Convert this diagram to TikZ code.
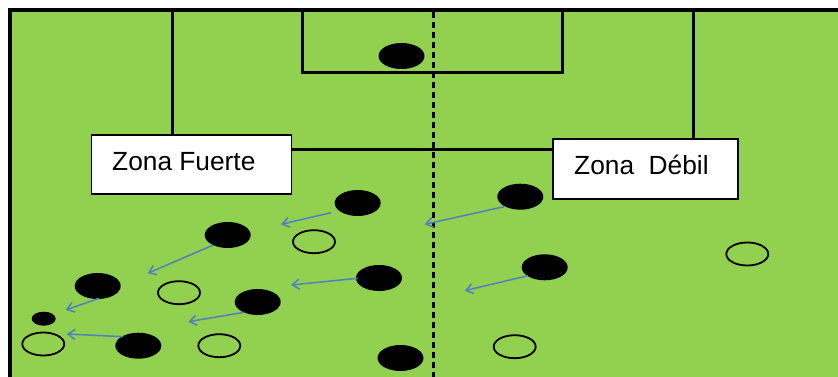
\documentclass[tikz,border=0pt]{standalone}
\usepackage{fontspec}
\setmainfont{Liberation Sans}
\usetikzlibrary{shapes.geometric,arrows.meta}
\definecolor{pitch}{HTML}{92D050}
\definecolor{arrowblue}{HTML}{4F81BD}
\tikzset{
  fieldline/.style={line width=3pt, black},
  pfull/.style={ellipse, fill=black, inner sep=0pt, minimum width=46pt, minimum height=26pt},
  pempty/.style={ellipse, draw=black, line width=1.8pt, inner sep=0pt, minimum width=42pt, minimum height=23pt},
  pmove/.style={draw=arrowblue, line width=1.5pt, -{Straight Barb[length=7pt,width=10pt]}},
  zonebox/.style={rectangle, draw=black, line width=1.6pt, fill=white, inner sep=0pt},
  zonetext/.style={anchor=base west, inner sep=0pt, font=\fontsize{26.3}{30}\selectfont}
}
\begin{document}
\begin{tikzpicture}[x=1pt,y=-1pt]
\useasboundingbox (0,0) rectangle (838,377);
% pitch
\fill[pitch] (9.5,10.5) rectangle (838,377);
\draw[line width=4pt] (9.5,377) -- (9.5,10.5) -- (838,10.5);
% penalty area and goal area
\draw[fieldline] (172,10.5) -- (172,150) -- (693,150) -- (693,10.5);
\draw[fieldline] (302,10.5) -- (302,73) -- (562,73) -- (562,10.5);
% dashed middle line
\draw[line width=2.5pt, dash pattern=on 6pt off 4pt] (433.5,12) -- (433.5,377);
% ball in goal area
\node[pfull] (gk) at (401.5,56) {};
% players
\node[pfull] (f1) at (357.7,203) {};
\node[pfull] (f2) at (227.7,235) {};
\node[pfull] (f3) at (379,278) {};
\node[pfull] (f4) at (97.7,286) {};
\node[pfull] (f5) at (257.7,302) {};
\node[pfull] (f6) at (138.3,345.7) {};
\node[pfull] (f7) at (400.5,358) {};
\node[pfull] (f8) at (520.3,196.7) {};
\node[pfull] (f9) at (544.7,267.3) {};
\node[ellipse, fill=black, inner sep=0pt, minimum width=24pt, minimum height=14pt] (ball) at (43.7,318.7) {};
\node[pempty] (e1) at (314,241.7) {};
\node[pempty] (e2) at (179,292.7) {};
\node[pempty] (e3) at (43.3,344) {};
\node[pempty] (e4) at (219.3,345.7) {};
\node[pempty] (e5) at (514.7,346.7) {};
\node[pempty] (e6) at (747.3,254) {};
% movement arrows
\coordinate (s1) at (331,212.7);   \coordinate (t1) at (281,224.3);
\coordinate (s2) at (213.3,245);   \coordinate (t2) at (147.7,273.3);
\coordinate (s3) at (357.7,278.3); \coordinate (t3) at (291,285);
\coordinate (s4) at (99,298.3);    \coordinate (t4) at (65.7,310);
\coordinate (s5) at (244.3,312.3); \coordinate (t5) at (188.3,321.7);
\coordinate (s6) at (123.3,336.7); \coordinate (t6) at (66.7,334);
\coordinate (s7) at (504,206.7);   \coordinate (t7) at (424.7,224.3);
\coordinate (s8) at (528,275.7);   \coordinate (t8) at (464.7,290.7);
\foreach \i in {1,...,8} { \draw[pmove] (s\i) -- (t\i); }
% zone labels
\node[zonebox, minimum width=200pt, minimum height=59pt] (fbox) at (191.5,164.5) {};
\node[zonetext] (ftext) at (112,171) {Zona Fuerte};
\node[zonebox, minimum width=185pt, minimum height=60pt] (dbox) at (645.5,169) {};
\node[zonetext] (dtext) at (574,175) {Zona\ \ Débil};
\end{tikzpicture}
\end{document}
